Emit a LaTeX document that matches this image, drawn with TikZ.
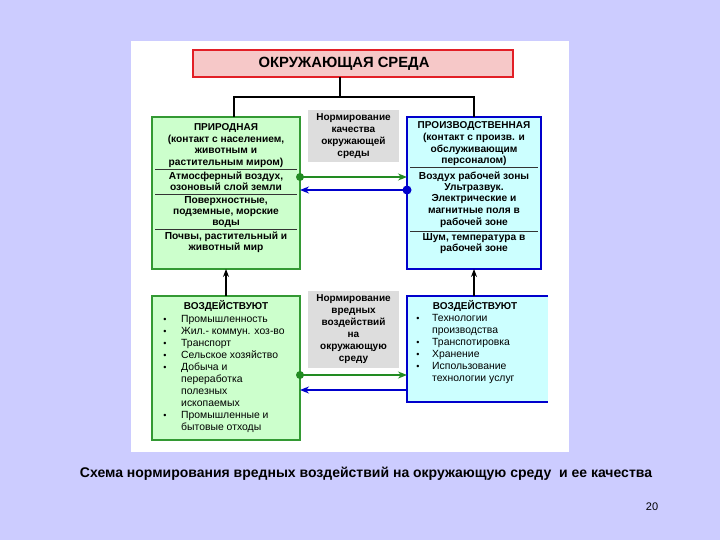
\documentclass[tikz,border=0pt]{standalone}
\usepackage{fontspec}
\setmainfont{Liberation Sans}
\usetikzlibrary{arrows.meta}
\definecolor{bgc}{HTML}{CCCCFF}
\definecolor{gfill}{HTML}{CCFFCC}
\definecolor{gline}{HTML}{339933}
\definecolor{garr}{HTML}{228B22}
\definecolor{bline}{HTML}{0000CC}
\definecolor{bfill}{HTML}{CCFFFF}
\definecolor{grayf}{HTML}{DDDDDD}
\definecolor{redl}{HTML}{E21F26}
\definecolor{pinkf}{HTML}{F6C8C8}
\tikzset{
  body/.style={font=\fontsize{10.2}{11.5}\selectfont\bfseries, anchor=base, inner sep=0pt},
  head/.style={font=\fontsize{10}{12}\selectfont\bfseries, anchor=base, inner sep=0pt},
  bodyb/.style={font=\fontsize{10}{12}\selectfont\bfseries, align=center, inner sep=0pt},
  item/.style={font=\fontsize{10.4}{12}\selectfont, anchor=base west, inner sep=0pt},
  bul/.style={font=\fontsize{9}{12}\selectfont, anchor=base, inner sep=0pt},
  gbox/.style={draw=gline, fill=gfill, line width=1.6pt},
  bbox/.style={draw=bline, fill=bfill, line width=1.6pt},
  grbox/.style={fill=grayf, draw=none},
  divg/.style={draw=black!80, line width=0.7pt},
  conn/.style={draw=black, line width=1.2pt},
  garrow/.style={draw=garr, line width=1.4pt, -{Stealth[length=9pt,width=7pt]}},
  barrow/.style={draw=bline, line width=1.4pt, -{Stealth[length=9pt,width=7pt]}},
}
\begin{document}
\begin{tikzpicture}[x=1pt,y=-1pt]
\path[fill=bgc] (0,0) rectangle (720,540);
\useasboundingbox (0,0) rectangle (720,540);
\path[fill=white] (131,41) rectangle (569,452);

% top box
\node[draw=redl, fill=pinkf, line width=2.2pt, minimum width=320pt, minimum height=27pt, inner sep=0pt] (top) at (353,63.5) {};
\node[font=\fontsize{14.8}{16}\selectfont\bfseries, inner sep=0pt] (toptxt) at (344,63.5) {ОКРУЖАЮЩАЯ СРЕДА};

% top left box
\node[gbox, minimum width=148pt, minimum height=152pt, inner sep=0pt] (tl) at (226,193) {};
\node[head] (tlh) at (226,130.5) {ПРИРОДНАЯ};
\foreach \y/\t in {142.7/{(контакт с населением,}, 153.7/животным и, 165.4/растительным миром),
  179.7/{Атмосферный воздух,}, 190.7/озоновый слой земли,
  203.7/{Поверхностные,}, 214.7/{подземные, морские}, 225.7/воды,
  239.7/{Почвы, растительный и}, 250.7/животный мир}
  {\node[body] at (226,\y) {\t};}
\draw[divg] (155,169) -- (297,169);
\draw[divg] (155,194) -- (297,194);
\draw[divg] (155,229) -- (297,229);

% top right box
\node[bbox, minimum width=134pt, minimum height=152pt, inner sep=0pt] (tr) at (474,193) {};
\node[head] (trh) at (474,128.8) {ПРОИЗВОДСТВЕННАЯ};
\foreach \y/\t in {140.7/{(контакт с произв. и}, 152.7/обслуживающим, 163.7/персоналом),
  179.7/Воздух рабочей зоны, 190.7/Ультразвук., 201.7/Электрические и, 213.2/магнитные поля в, 225.2/рабочей зоне,
  240.7/{Шум, температура в}, 251.7/рабочей зоне}
  {\node[body] at (474,\y) {\t};}
\draw[divg] (410,167.5) -- (538,167.5);
\draw[divg] (410,231) -- (538,231);

% middle gray boxes
\node[grbox, minimum width=91pt, minimum height=52pt, inner sep=0pt] (gm1) at (353.5,136) {};
\node[bodyb] at (gm1) {Нормирование\\качества\\окружающей\\среды};
\node[grbox, minimum width=91pt, minimum height=77pt, inner sep=0pt] (gm2) at (353.5,329.5) {};
\node[bodyb] at (gm2) {Нормирование\\вредных\\воздействий\\на\\окружающую\\среду};

% bottom left box
\node[gbox, minimum width=148pt, minimum height=144pt, inner sep=0pt] (bl) at (226,368) {};
\node[head] (blh) at (226,309.5) {ВОЗДЕЙСТВУЮТ};
\foreach \y/\t in {322.2/Промышленность, 334.2/{Жил.- коммун. хоз-во}, 346.2/Транспорт, 358.2/Сельское хозяйство, 370.2/Добыча и, 418.2/Промышленные и}
  {\node[bul] at (165,\y) {•}; \node[item] at (181,\y) {\t};}
\foreach \y/\t in {382.2/переработка, 394.2/полезных, 406.2/ископаемых, 430.2/бытовые отходы}
  {\node[item] at (181,\y) {\t};}

% bottom right box (open right side)
\path[fill=bfill] (407,296) rectangle (548,402);
\coordinate (br) at (407,349);
\draw[draw=bline, line width=1.6pt] (548,296) -- (407,296) -- (407,402) -- (548,402);
\node[head] (brh) at (475,309.5) {ВОЗДЕЙСТВУЮТ};
\foreach \y/\t in {321.7/Технологии, 345.7/Транспотировка, 357.7/Хранение, 369.7/Использование}
  {\node[bul] at (418,\y) {•}; \node[item] at (432,\y) {\t};}
\foreach \y/\t in {333.7/производства, 381.7/технологии услуг}
  {\node[item] at (432,\y) {\t};}

% tree connectors
\coordinate (j) at (340,97);
\draw[conn] (340,77) -- (j);
\draw[conn] (234,117) -- (234,97) -- (474,97) -- (474,117);

% vertical arrows
\draw[conn, -{Stealth[length=8pt,width=6pt]}] (226,296) -- (226,269);
\draw[conn, -{Stealth[length=8pt,width=6pt]}] (474,296) -- (474,269);

% horizontal arrows top
\draw[garrow] (300,177) -- (407,177);
\fill[garr] (300,177) circle (4pt);
\draw[barrow] (407,190) -- (300,190);
\fill[bline] (407,190) circle (4.5pt);

% horizontal arrows bottom
\draw[garrow] (300,375) -- (407,375);
\fill[garr] (300,375) circle (4pt);
\draw[barrow] (407,390) -- (300,390);

% caption
\node[font=\fontsize{14}{16}\selectfont\bfseries, inner sep=0pt] (cap) at (366,474)
  {Схема нормирования вредных воздействий на окружающую среду\ \ и ее качества};
\node[font=\fontsize{11}{13}\selectfont, inner sep=0pt] (pg) at (652,507) {20};
\end{tikzpicture}
\end{document}
